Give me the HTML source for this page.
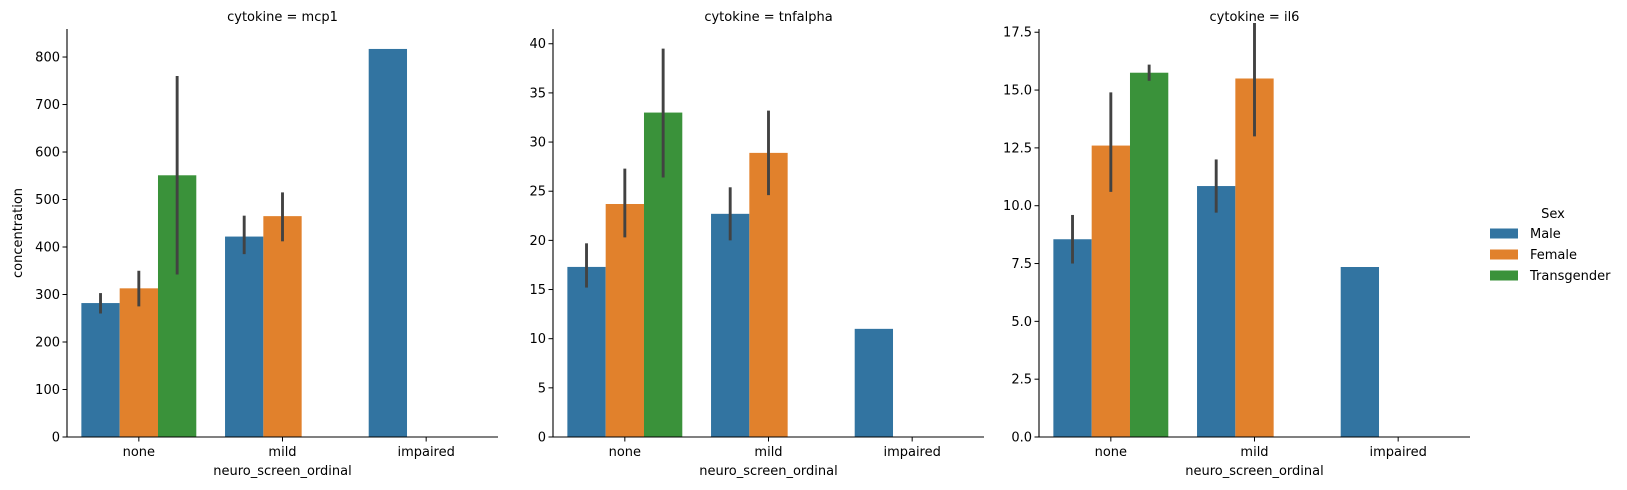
<!DOCTYPE html>
<html><head><meta charset="utf-8"><style>
body{margin:0;background:#fff;}
svg{display:block;font-family:"DejaVu Sans","Liberation Sans",sans-serif;}
</style></head><body>
<svg id="chart" width="1627" height="490"></svg>
<script>
const categories = ["none","mild","impaired"];
const sexes = ["Male","Female","Transgender"];
const colors = ["#3274a1","#e1812c","#3a923a"];
const panelTitles = ["cytokine = mcp1","cytokine = tnfalpha","cytokine = il6"];
const yMax = [859, 41.5, 17.64];
const ticks1 = [0,100,200,300,400,500,600,700,800];
const ticks2 = [0,5,10,15,20,25,30,35,40];
const ticks3 = ["0.0","2.5","5.0","7.5","10.0","12.5","15.0","17.5"];
const mcp1Vals = [[282,313,551],[422,465,null],[817,null,null]];
const mcp1Lo = [[260,275,342],[385,412,null],[null,null,null]];
const mcp1Hi = [[303,350,760],[466,515,null],[null,null,null]];
const tnfVals = [[17.3,23.7,33.0],[22.7,28.9,null],[11.0,null,null]];
const tnfLo = [[15.2,20.3,26.4],[20.0,24.6,null],[null,null,null]];
const tnfHi = [[19.7,27.3,39.5],[25.4,33.2,null],[null,null,null]];
const il6Vals = [[8.55,12.6,15.75],[10.85,15.5,null],[7.35,null,null]];
const il6Lo = [[7.5,10.6,15.4],[9.7,13.0,null],[null,null,null]];
const il6Hi = [[9.6,14.9,16.1],[12.0,17.9,null],[null,null,null]];

const NS="http://www.w3.org/2000/svg";
const svg=document.getElementById('chart');
function mk(tag,attrs,parent){const e=document.createElementNS(NS,tag);for(const k in attrs)e.setAttribute(k,attrs[k]);(parent||svg).appendChild(e);return e;}
const panels=[
 {vals:mcp1Vals,lo:mcp1Lo,hi:mcp1Hi,ticks:ticks1},
 {vals:tnfVals,lo:tnfLo,hi:tnfHi,ticks:ticks2},
 {vals:il6Vals,lo:il6Lo,hi:il6Hi,ticks:ticks3}];
const yTop=29,yBottom=437,W=431;
panels.forEach((p,pi)=>{
  const x0=67+pi*486;
  const g=mk('g',{});
  
  
  const ys=v=>yBottom-(v/yMax[pi])*(yBottom-yTop);
  const cw=W/3, bw=cw*0.8/3;
  const cx=i=>x0+cw*(i+0.5);
  const t=mk('text',{x:x0+W/2,y:21,'text-anchor':'middle','font-size':'13'},g);
  t.textContent=panelTitles[pi];
  
  
  p.vals.forEach((row,ci)=>row.forEach((v,si)=>{
    if(v===null)return;
    const bx=cx(ci)-1.5*bw+si*bw;
    const r=mk('rect',{x:bx,y:ys(v),width:bw,height:yBottom-ys(v),fill:colors[si]},g);
    
    
    if(p.lo[ci][si]!==null){
      const l=mk('line',{x1:bx+bw/2,x2:bx+bw/2,y1:ys(p.lo[ci][si]),y2:ys(p.hi[ci][si]),stroke:'#424242','stroke-width':2.9},g);
      
      
    }
  }));
  mk('line',{x1:x0,x2:x0,y1:yTop,y2:yBottom+0.5,stroke:'#000','stroke-width':1.1},g);
  mk('line',{x1:x0,x2:x0+W,y1:yBottom,y2:yBottom,stroke:'#000','stroke-width':1.1},g);
  p.ticks.forEach(tv=>{
    const ty=ys(parseFloat(tv));
    mk('line',{x1:x0-4.5,x2:x0,y1:ty,y2:ty,stroke:'#000','stroke-width':1},g);
    const tl=mk('text',{x:x0-7,y:ty+4.5,'text-anchor':'end','font-size':'13'},g);
    tl.textContent=String(tv);
    
    
  });
  categories.forEach((c,ci)=>{
    mk('line',{x1:cx(ci),x2:cx(ci),y1:yBottom,y2:yBottom+4.5,stroke:'#000','stroke-width':1},g);
    const tl=mk('text',{x:cx(ci),y:yBottom+19,'text-anchor':'middle','font-size':'13'},g);
    tl.textContent=c;
    
    
  });
  const xt=mk('text',{x:x0+W/2,y:yBottom+38,'text-anchor':'middle','font-size':'13'},g);
  xt.textContent='neuro_screen_ordinal';
  
  
});
const yl=mk('text',{x:0,y:0,'text-anchor':'middle','font-size':'13',transform:'translate(22,233) rotate(-90)'});
yl.textContent='concentration';


const lg=mk('g',{});


const lt=mk('text',{x:1553,y:218,'text-anchor':'middle','font-size':'13'},lg);
lt.textContent='Sex';


sexes.forEach((s,i)=>{
  const cy=233.5+i*21;
  mk('rect',{x:1490,y:cy-5,width:28,height:10,fill:colors[i]},lg);
  const tx=mk('text',{x:1530,y:cy+4.5,'font-size':'13'},lg);
  tx.textContent=s;
  
  
});
</script>
</body></html>
